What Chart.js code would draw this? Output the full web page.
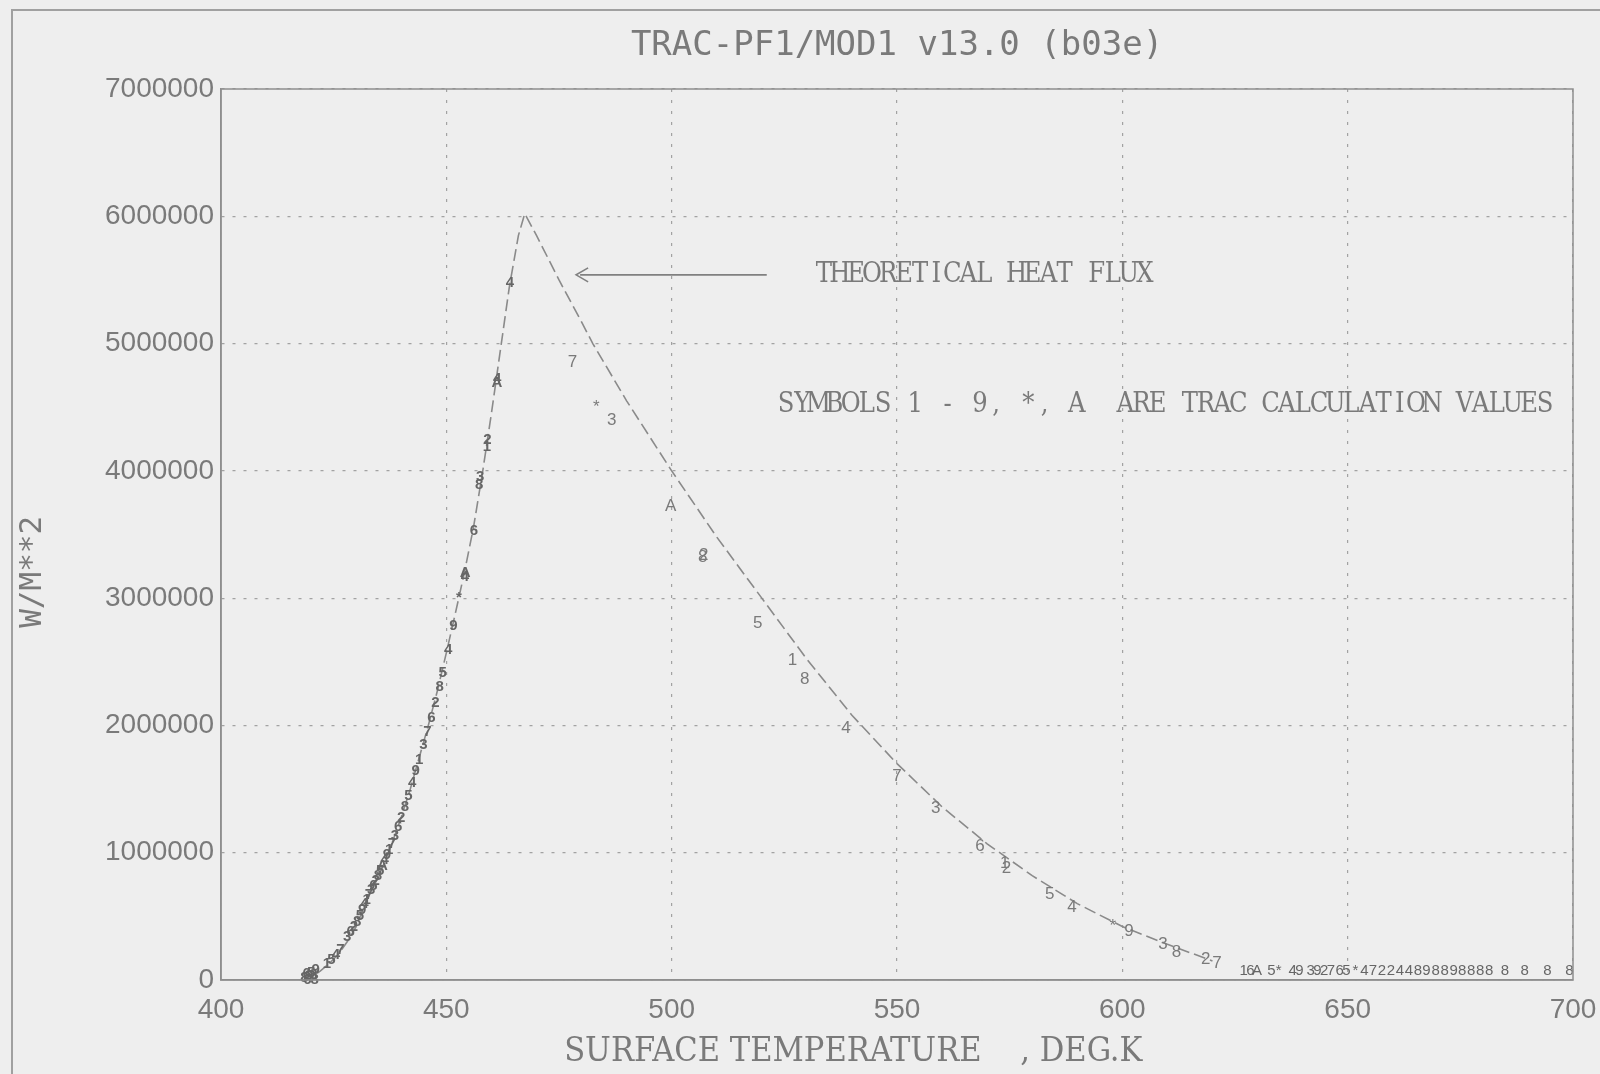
<!DOCTYPE html>
<html><head><meta charset="utf-8">
<script src="https://cdn.jsdelivr.net/npm/chart.js@4.4.1/dist/chart.umd.min.js"></script>
<style>
html,body{margin:0;padding:0;background:#eeeeee;}
#wrap{position:relative;width:1600px;height:1074px;overflow:hidden;}
#frame{position:absolute;left:11px;top:9px;width:1620px;height:1100px;border-top:2px solid #a0a0a0;border-left:2px solid #a0a0a0;pointer-events:none;}
canvas{display:block;}
</style></head><body>
<div id="wrap"><canvas id="c" width="1600" height="1074"></canvas><div id="frame"></div></div>
<script>
// ---------- data ----------
const chartTitle = 'TRAC-PF1/MOD1 v13.0 (b03e)';
const xTitle = 'SURFACE TEMPERATURE    , DEG.K';
const yTitle = 'W/M**2';
const xTicks = [400, 450, 500, 550, 600, 650, 700];
const yTicks = [0, 1000000, 2000000, 3000000, 4000000, 5000000, 6000000, 7000000];

// theoretical heat flux curve (K, W/m2)
const theoryT = [418, 420, 422, 424, 426, 428, 430, 432, 434, 436, 438, 440, 442, 444, 446, 448, 450, 452, 454, 456, 458, 460, 462, 464, 466, 467.4,
                 470, 475, 480, 482.5, 490, 500, 510, 520, 530, 540, 550, 560, 570, 580, 590, 600, 610, 620];
const theoryQ = [0, 20000, 70000, 130000, 200000, 300000, 420000, 600000, 750000, 900000, 1080000, 1280000, 1500000, 1750000, 2000000, 2270000, 2570000, 2880000, 3200000, 3550000, 3980000, 4450000, 4950000, 5450000, 5850000, 6020000,
                 5850000, 5500000, 5170000, 5000000, 4550000, 4000000, 3480000, 3000000, 2520000, 2080000, 1700000, 1360000, 1070000, 820000, 600000, 420000, 280000, 150000];

// TRAC calculation values - rising (nucleate) branch
const risingT = [418.5, 419.0, 419.5, 420.0, 420.5, 421.0, 419.2, 420.8,
                 423.5, 424.5, 425.5, 426.5,
                 428.0, 428.8, 429.5, 430.2, 430.8, 431.3, 431.8, 432.3, 432.8, 433.3, 433.8, 434.3, 434.8, 435.3, 435.8, 436.3, 436.8, 437.3, 437.9,
                 438.6, 439.3, 440.0, 440.8, 441.6, 442.4, 443.2, 444.0, 444.9, 445.8, 446.7, 447.6, 448.5, 449.2, 450.4, 451.6,
                 452.8, 454.1, 454.2, 456.1, 457.3, 457.5, 459.0, 459.1, 461.2, 461.3, 464.1];
const risingQ = [20000, 50000, 30000, 60000, 40000, 80000, 0, 0,
                 130000, 160000, 200000, 240000,
                 340000, 380000, 420000, 460000, 500000, 550000, 600000, 630000, 670000, 710000, 740000, 780000, 820000, 860000, 900000, 940000, 980000, 1020000, 1070000,
                 1130000, 1200000, 1270000, 1360000, 1450000, 1550000, 1640000, 1730000, 1850000, 1950000, 2060000, 2180000, 2300000, 2410000, 2590000, 2780000,
                 3000000, 3170000, 3200000, 3530000, 3890000, 3950000, 4190000, 4240000, 4690000, 4720000, 5480000];
const risingSym = ['8', '6', '9', '5', '8', '9', '6', '8',
                   '1', '5', '4', '7',
                   '3', '6', '2', '8', '5', '9', '4', '1', '7', '3', '6', '2', '8', '5', 'A', '4', '9', '1', '7',
                   '3', '6', '2', '8', '5', '4', '9', '1', '3', '7', '6', '2', '8', '5', '4', '9',
                   '*', '4', 'A', '6', '8', '3', '1', '2', 'A', '4', '4'];

// TRAC calculation values - falling (transition) branch
const fallingT = [478.0, 483.3, 486.7, 499.8, 506.9, 507.1, 519.1, 526.8, 529.5, 538.7, 550.0, 558.6, 568.4, 573.9, 574.3, 583.9, 588.8, 597.9, 601.5, 609.0, 612.0, 618.5, 621.0];
const fallingQ = [4850000, 4500000, 4400000, 3720000, 3320000, 3340000, 2800000, 2510000, 2360000, 1980000, 1600000, 1350000, 1050000, 920000, 880000, 670000, 570000, 420000, 380000, 280000, 220000, 160000, 130000];
const fallingSym = ['7', '*', '3', 'A', '8', '2', '5', '1', '8', '4', '7', '3', '6', '1', '2', '5', '4', '*', '9', '3', '8', '2', '7'];

// TRAC calculation values - film boiling tail
const tailT = [626.9, 628.4, 629.9, 633.1, 634.7, 637.8, 639.3, 641.8, 643.3, 644.8, 646.3, 648.2, 649.7, 651.7, 653.7, 655.6, 657.6, 659.6, 661.6, 663.6, 665.6, 667.5, 669.5, 671.5, 673.5, 675.4, 677.4, 679.4, 681.4, 684.9, 689.3, 694.3, 699.2];
const tailQ = [70000, 70000, 70000, 70000, 70000, 70000, 70000, 70000, 70000, 70000, 70000, 70000, 70000, 70000, 70000, 70000, 70000, 70000, 70000, 70000, 70000, 70000, 70000, 70000, 70000, 70000, 70000, 70000, 70000, 70000, 70000, 70000, 70000];
const tailSym = ['1', '6', 'A', '5', '*', '4', '9', '3', '9', '2', '7', '6', '5', '*', '4', '7', '2', '2', '4', '4', '8', '9', '8', '8', '9', '8', '8', '8', '8', '8', '8', '8', '8'];

// annotations (anchored in data units)
const arrowNote = { fromT: 478.8, toT: 521.1, q: 5540000 };
const theoryNote = { text: 'THEORETICAL HEAT FLUX', t: 532.0, q: 5540000, pitch: 16.05 };
const symbolsNote = { text: 'SYMBOLS 1 - 9, *, A  ARE TRAC CALCULATION VALUES', t: 523.6, q: 4520000, pitch: 16.15 };

// ---------- styles ----------
const INK = '#7a7a7a';
const GRID = '#a2a2a2';
const sans = "'Liberation Sans', Arial, sans-serif";
const mono = "'DejaVu Sans Mono', 'Liberation Mono', monospace";
const serifC = "'DejaVu Serif Condensed', 'DejaVu Serif', 'Liberation Serif', serif";

const pts = (xs, ys) => xs.map((x, i) => ({ x: x, y: ys[i] }));

const symbolPlugin = {
  id: 'symbolPlugin',
  afterDatasetsDraw(chart) {
    const ctx = chart.ctx;
    chart.data.datasets.forEach((ds, i) => {
      if (!ds.symbols) return;
      const meta = chart.getDatasetMeta(i);
      ctx.save();
      ctx.font = ds.symbolFont;
      ctx.fillStyle = ds.symbolColor;
      ctx.textAlign = 'center';
      ctx.textBaseline = 'middle';
      meta.data.forEach((el, j) => ctx.fillText(ds.symbols[j], el.x, el.y));
      ctx.restore();
    });
  }
};

const framePlugin = {
  id: 'framePlugin',
  afterDraw(chart) {
    const { ctx, chartArea: a } = chart;
    ctx.save();
    ctx.strokeStyle = '#8e8e8e';
    ctx.lineWidth = 1.5;
    ctx.strokeRect(a.left, a.top, a.right - a.left, a.bottom - a.top);
    ctx.restore();
  }
};

function pitchText(ctx, text, x0, y0, pitch) {
  for (let i = 0; i < text.length; i++) {
    const ch = text[i];
    if (ch !== ' ') ctx.fillText(ch, x0 + pitch * i + pitch / 2, y0);
  }
}

const notePlugin = {
  id: 'notePlugin',
  afterDraw(chart) {
    const { ctx, scales: { x, y } } = chart;
    ctx.save();
    const x0 = x.getPixelForValue(arrowNote.fromT), x1 = x.getPixelForValue(arrowNote.toT), ya = y.getPixelForValue(arrowNote.q);
    ctx.strokeStyle = '#808080';
    ctx.lineWidth = 1.6;
    ctx.beginPath();
    ctx.moveTo(x0 + 4, ya); ctx.lineTo(x1, ya);
    ctx.moveTo(x0 + 12, ya - 7); ctx.lineTo(x0, ya); ctx.lineTo(x0 + 12, ya + 7);
    ctx.stroke();
    ctx.fillStyle = INK;
    ctx.textAlign = 'center';
    ctx.textBaseline = 'middle';
    ctx.font = "27px " + serifC;
    pitchText(ctx, theoryNote.text, x.getPixelForValue(theoryNote.t), y.getPixelForValue(theoryNote.q), theoryNote.pitch);
    pitchText(ctx, symbolsNote.text, x.getPixelForValue(symbolsNote.t), y.getPixelForValue(symbolsNote.q), symbolsNote.pitch);
    ctx.restore();
  }
};

new Chart(document.getElementById('c'), {
  type: 'scatter',
  data: {
    datasets: [
      { label: 'Theoretical heat flux', data: pts(theoryT, theoryQ), showLine: true, borderColor: '#8a8a8a', borderWidth: 1.6,
        borderDash: [12, 5], pointRadius: 0, fill: false, tension: 0 },
      { label: 'TRAC rising', data: pts(risingT, risingQ), pointRadius: 0, showLine: false,
        symbols: risingSym, symbolFont: 'bold 15px ' + sans, symbolColor: '#666666' },
      { label: 'TRAC falling', data: pts(fallingT, fallingQ), pointRadius: 0, showLine: false,
        symbols: fallingSym, symbolFont: '17px ' + sans, symbolColor: '#7a7a7a' },
      { label: 'TRAC tail', data: pts(tailT, tailQ), pointRadius: 0, showLine: false,
        symbols: tailSym, symbolFont: '15px ' + sans, symbolColor: '#666666' }
    ]
  },
  options: {
    responsive: false, animation: false, devicePixelRatio: 1,
    layout: { padding: { left: 0, right: 27, top: 0, bottom: 0 } },
    plugins: {
      legend: { display: false }, tooltip: { enabled: false },
      title: { display: true, fullSize: false, text: chartTitle, color: INK, font: { family: mono, size: 34, weight: 'normal' }, padding: { top: 26, bottom: 22.2 } }
    },
    scales: {
      x: {
        type: 'linear', min: xTicks[0], max: xTicks[xTicks.length - 1],
        afterBuildTicks: s => { s.ticks = xTicks.map(v => ({ value: v })); },
        ticks: { color: INK, font: { family: sans, size: 28 }, padding: 13, maxRotation: 0, callback: v => String(v) },
        grid: { color: GRID, lineWidth: 1.2, drawTicks: false },
        border: { display: true, color: '#8e8e8e', width: 1.5, dash: [3, 8] },
        title: { display: true, text: xTitle + '         ', color: INK, font: { family: serifC, size: 34 }, padding: { top: 0, bottom: 1 } },
        afterFit: s => { s.height = 94; s.paddingLeft = 0; s.paddingRight = 0; }
      },
      y: {
        type: 'linear', min: yTicks[0], max: yTicks[yTicks.length - 1],
        afterBuildTicks: s => { s.ticks = yTicks.map(v => ({ value: v })); },
        ticks: { color: INK, font: { family: sans, size: 28 }, padding: 7, callback: v => String(v) },
        grid: { color: GRID, lineWidth: 1.2, drawTicks: false },
        border: { display: true, color: '#8e8e8e', width: 1.5, dash: [3, 8] },
        title: { display: true, text: yTitle + '    ', color: INK, font: { family: mono, size: 31 }, padding: { top: 14, bottom: 0 } },
        afterFit: s => { s.width = 221; s.paddingTop = 0; s.paddingBottom = 0; }
      }
    }
  },
  plugins: [symbolPlugin, framePlugin, notePlugin]
});
</script>
</body></html>
